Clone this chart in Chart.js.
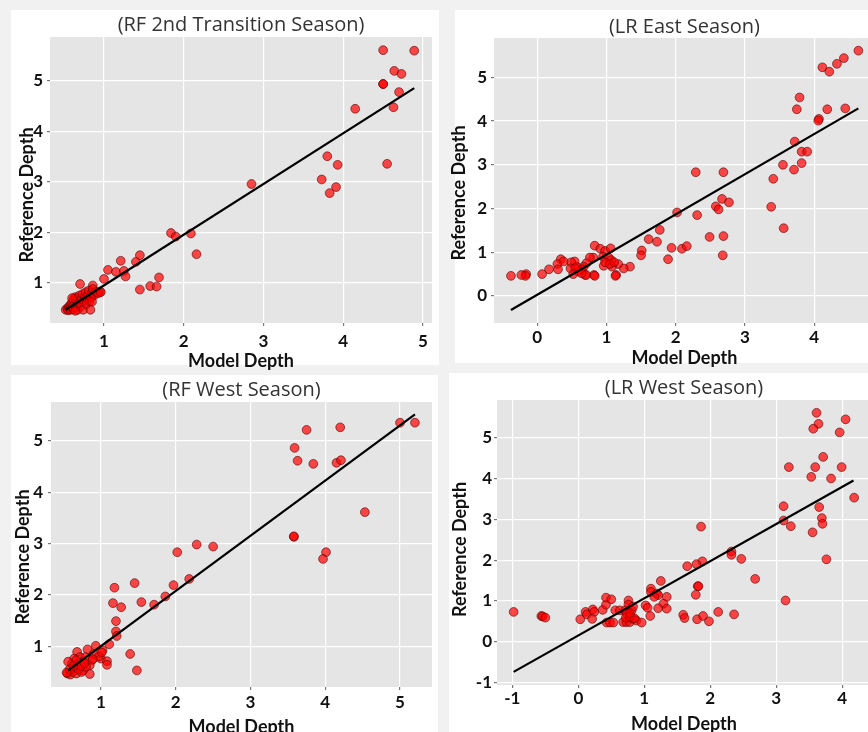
<!DOCTYPE html>
<html>
<head>
<meta charset="utf-8">
<script src="https://cdn.jsdelivr.net/npm/chart.js@4.4.1/dist/chart.umd.min.js"></script>
<style>
  html, body { margin: 0; padding: 0; }
  body { width: 868px; height: 732px; overflow: hidden; position: relative; background: #f1f1f1; }
  .panel { position: absolute; background: #ffffff; }
  canvas { position: absolute; }
</style>
</head>
<body>
<div class="panel" style="left:11px;top:10px;width:428px;height:355px"></div>
<div class="panel" style="left:455px;top:10px;width:413px;height:353px"></div>
<div class="panel" style="left:11px;top:375px;width:427px;height:357px"></div>
<div class="panel" style="left:449px;top:373px;width:419px;height:359px"></div>
<canvas id="c1"></canvas>
<canvas id="c2"></canvas>
<canvas id="c3"></canvas>
<canvas id="c4"></canvas>
<script>
// ---- data: [model depth, reference depth] ----
const rfTransPoints = [
  [4.50,5.61],[4.89,5.60],[4.64,5.20],[4.73,5.14],[4.50,4.94],[4.50,4.94],[4.70,4.78],[4.63,4.48],
  [4.15,4.45],[4.55,3.36],[3.80,3.51],[3.93,3.34],[3.73,3.05],[3.91,2.90],[3.83,2.78],[2.85,2.96],
  [1.84,1.99],[1.90,1.92],[2.09,1.98],[2.16,1.57],[1.21,1.44],[1.40,1.42],[1.45,1.55],[1.05,1.26],
  [1.15,1.22],[1.25,1.24],[1.27,1.13],[1.00,1.08],[1.69,1.11],[1.58,0.94],[1.66,0.93],[1.45,0.87],
  [0.70,0.98],[0.86,0.95],[0.95,0.83],
  [0.52,0.47],[0.54,0.50],[0.55,0.46],[0.56,0.53],[0.57,0.49],[0.58,0.47],[0.58,0.57],[0.59,0.52],
  [0.60,0.62],[0.61,0.55],[0.62,0.48],[0.62,0.68],[0.63,0.58],[0.64,0.72],[0.65,0.52],[0.66,0.64],
  [0.67,0.47],[0.67,0.70],[0.68,0.58],[0.69,0.75],[0.70,0.62],[0.71,0.53],[0.72,0.68],[0.73,0.78],
  [0.74,0.47],[0.75,0.64],[0.76,0.72],[0.77,0.82],[0.78,0.58],[0.79,0.70],[0.80,0.76],[0.81,0.85],
  [0.82,0.63],[0.83,0.47],[0.84,0.72],[0.85,0.80],[0.86,0.88],[0.88,0.76],[0.90,0.82],[0.93,0.80],
  [0.96,0.82],[0.60,0.70],[0.64,0.45],[0.85,0.63]
];
const lrEastPoints = [
  [4.64,5.61],[4.43,5.44],[4.33,5.31],[4.12,5.23],[4.22,5.13],[3.79,4.54],[3.75,4.27],[4.19,4.27],
  [4.45,4.29],[4.07,4.05],[4.06,4.01],[3.72,3.53],[3.82,3.30],[3.90,3.30],[3.82,3.04],[3.55,3.00],
  [3.71,2.89],[3.41,2.68],[3.38,2.04],[3.56,1.55],[2.29,2.83],[2.69,2.83],[2.67,2.22],[2.58,2.05],
  [2.62,1.98],[2.77,2.14],[2.31,1.85],[2.69,1.37],[2.49,1.35],[2.68,0.93],[2.02,1.91],[1.77,1.51],
  [1.61,1.30],[1.73,1.24],[1.94,1.10],[1.89,0.84],[2.09,1.08],[2.16,1.14],[1.51,1.04],[1.50,0.93],
  [1.34,0.67],[1.25,0.63],[1.17,0.73],[1.14,0.48],[1.13,0.46],
  [0.83,1.15],[0.91,1.08],[0.98,1.03],[1.06,1.09],[0.95,0.90],[1.03,0.88],[1.07,0.82],[0.96,0.69],
  [1.08,0.67],[0.98,0.77],[1.05,0.73],[1.11,0.77],[0.81,0.88],[0.76,0.88],[0.71,0.75],[0.67,0.67],
  [0.64,0.61],[0.59,0.56],[0.57,0.67],[0.54,0.79],[0.49,0.77],[0.48,0.63],[0.55,0.64],[0.52,0.50],
  [0.69,0.48],[0.71,0.48],[0.82,0.48],[0.83,0.46],[0.64,0.52],[0.34,0.84],[0.38,0.79],[0.29,0.73],
  [0.30,0.61],[0.17,0.61],[0.07,0.50],[-0.16,0.50],[-0.17,0.46],[-0.23,0.48],[-0.38,0.46]
];
const rfWestPoints = [
  [5.20,5.35],[5.00,5.35],[3.75,5.21],[4.20,5.26],[3.59,4.86],[3.63,4.61],[3.84,4.55],[4.15,4.57],
  [4.21,4.62],[4.53,3.61],[3.58,3.13],[3.58,3.14],[4.01,2.83],[3.97,2.70],[2.28,2.98],[2.50,2.94],
  [2.02,2.83],[2.18,2.31],[1.97,2.19],[1.86,1.97],[1.71,1.81],[1.45,2.23],[1.54,1.86],[1.18,2.14],
  [1.16,1.84],[1.27,1.76],[1.20,1.49],[1.20,1.29],[1.21,1.20],[1.11,1.04],[1.39,0.85],[1.48,0.53],
  [0.93,1.01],[0.82,0.94],[1.02,0.92],[1.00,0.76],[1.08,0.71],[1.08,0.64],[0.88,0.73],[0.85,0.63],
  [0.85,0.46],[0.76,0.53],[0.68,0.89],[0.72,0.79],[0.64,0.76],[0.61,0.66],[0.56,0.70],[0.55,0.47],
  [0.59,0.45],[0.67,0.47],[0.74,0.50],[0.80,0.60],[0.70,0.66],[0.65,0.57],[0.76,0.70],[0.67,0.73],
  [0.79,0.79],[0.58,0.55],[0.62,0.50],[0.70,0.55],[0.73,0.62],[0.63,0.62],[0.78,0.67],[0.90,0.85],
  [0.97,0.80],[1.01,0.88],[0.54,0.49],[0.89,0.75]
];
const lrWestPoints = [
  [3.61,5.61],[3.64,5.34],[3.56,5.22],[4.05,5.45],[3.96,5.13],[3.71,4.53],[3.19,4.28],[3.59,4.28],
  [3.99,4.28],[3.53,4.04],[3.83,4.00],[4.18,3.53],[3.11,3.32],[3.65,3.30],[3.11,2.97],[3.22,2.83],
  [3.69,3.03],[3.70,2.89],[3.55,2.68],[3.76,2.02],[3.14,1.01],[1.86,2.82],[2.32,2.21],[2.32,2.13],
  [2.47,2.03],[2.68,1.54],[1.88,1.97],[1.79,1.90],[1.65,1.85],[1.81,1.36],[1.82,1.36],[1.78,1.15],
  [1.25,1.49],[1.10,1.30],[1.10,1.22],[1.19,1.18],[1.21,1.14],[1.15,1.10],[1.34,1.10],[1.29,0.93],
  [1.21,0.82],[1.34,0.81],[1.02,0.89],[1.05,0.83],[1.09,0.63],[1.59,0.66],[1.61,0.58],[1.80,0.55],
  [1.89,0.63],[1.98,0.50],[2.12,0.73],[2.36,0.67],[-0.98,0.73],[-0.56,0.63],[-0.54,0.62],[-0.50,0.59],
  [0.03,0.55],[0.11,0.73],[0.13,0.67],[0.22,0.79],[0.24,0.73],[0.21,0.56],[0.37,0.78],[0.42,0.91],
  [0.42,1.08],[0.50,1.04],[0.43,0.47],[0.48,0.47],[0.53,0.47],[0.56,0.77],[0.63,0.77],[0.68,0.48],
  [0.73,0.48],[0.78,0.48],[0.76,1.01],[0.76,0.91],[0.71,0.77],[0.81,0.77],[0.73,0.69],[0.78,0.64],
  [0.83,0.56],[0.88,0.52],[0.96,0.47],[0.72,0.59],[0.83,0.86],[0.78,0.61],[0.85,0.57],[0.78,0.70]
];

// fitted lines, end points [model, reference]
const rfTransFit = [[0.52,0.47],[4.89,4.86]];
const lrEastFit  = [[-0.38,-0.32],[4.64,4.29]];
const rfWestFit  = [[0.56,0.53],[5.20,5.51]];
const lrWestFit  = [[-0.98,-0.74],[4.17,3.95]];

// axis ranges and tick values
const rfTransXRange = [0.323, 5.113], rfTransYRange = [0.208, 5.871];
const lrEastXRange  = [-0.625, 4.877], lrEastYRange  = [-0.618, 5.900];
const rfWestXRange  = [0.331, 5.428], rfWestYRange  = [0.208, 5.753];
const lrWestXRange  = [-1.232, 4.435], lrWestYRange  = [-1.061, 5.924];

const rfTransXTicks = [1, 2, 3, 4, 5], rfTransYTicks = [1, 2, 3, 4, 5];
const lrEastXTicks  = [0, 1, 2, 3, 4], lrEastYTicks  = [0, 1, 2, 3, 4, 5];
const rfWestXTicks  = [1, 2, 3, 4, 5], rfWestYTicks  = [1, 2, 3, 4, 5];
const lrWestXTicks  = [-1, 0, 1, 2, 3, 4], lrWestYTicks = [-1, 0, 1, 2, 3, 4, 5];

const panelTitles = ['(RF 2nd Transition Season)', '(LR East Season)', '(RF West Season)', '(LR West Season)'];
const xAxisTitle = 'Model Depth';
const yAxisTitle = 'Reference Depth';

// ---- drawing ----
const toXY = pts => pts.map(p => ({ x: p[0], y: p[1] }));

const plotBg = {
  id: 'plotBg',
  beforeDraw(chart) {
    const { ctx, chartArea: a } = chart;
    ctx.save();
    ctx.fillStyle = '#e5e5e5';
    ctx.fillRect(a.left, a.top, a.right - a.left, a.bottom - a.top);
    ctx.restore();
  }
};

const sideTitle = {
  id: 'sideTitle',
  afterDraw(chart, args, opts) {
    const ctx = chart.ctx;
    ctx.save();
    ctx.translate(opts.x, opts.y);
    ctx.rotate(-Math.PI / 2);
    ctx.font = 'bold 18px Lato';
    ctx.fillStyle = '#111111';
    ctx.textAlign = 'center';
    ctx.textBaseline = 'middle';
    ctx.fillText(opts.text, 0, 0);
    ctx.restore();
  }
};

const tickFont = { family: 'Lato', weight: 'bold', size: 17 };
const axisTitleFont = { family: 'Lato', weight: 'bold', size: 18 };

function makePanel(id, lay, title, points, fit, xr, yr, xt, yt) {
  const cv = document.getElementById(id);
  cv.width = lay.w; cv.height = lay.h;
  cv.style.left = lay.left + 'px'; cv.style.top = lay.top + 'px';
  cv.style.width = lay.w + 'px'; cv.style.height = lay.h + 'px';
  new Chart(cv, {
    type: 'scatter',
    data: {
      datasets: [
        {
          type: 'line', data: toXY(fit), order: 0,
          borderColor: '#000000', borderWidth: 2.2, pointRadius: 0, fill: false
        },
        {
          type: 'scatter', data: toXY(points), order: 1,
          backgroundColor: 'rgba(255,0,0,0.70)', borderColor: 'rgba(90,0,0,0.75)',
          borderWidth: 0.8, pointRadius: 4.4, pointHoverRadius: 4.4
        }
      ]
    },
    options: {
      responsive: false, animation: false, devicePixelRatio: 1,
      layout: { padding: { left: 0, right: lay.padR, top: 0, bottom: 0 } },
      plugins: {
        legend: { display: false },
        tooltip: { enabled: false },
        title: {
          display: true, text: title, fullSize: false, color: '#333333',
          font: { family: 'Open Sans', size: 20, weight: 'normal', lineHeight: 1 },
          padding: { top: lay.tPad[0], bottom: lay.tPad[1] }
        },
        sideTitle: { text: yAxisTitle, x: lay.yTitle[0], y: lay.yTitle[1] }
      },
      scales: {
        x: {
          type: 'linear', position: 'bottom', min: xr[0], max: xr[1],
          afterBuildTicks: s => { s.ticks = xt.map(v => ({ value: v })); },
          afterFit: s => { s.height = lay.xH; },
          grid: { color: '#ffffff', lineWidth: 1.2, tickLength: 3, tickColor: '#777777' },
          border: { display: false },
          ticks: { color: '#111111', font: tickFont, padding: lay.xTickPad, maxRotation: 0, autoSkip: false,
                   callback: v => String(v) },
          title: { display: true, text: xAxisTitle, color: '#111111', font: axisTitleFont,
                   padding: { top: 0, bottom: lay.xTitlePB } }
        },
        y: {
          type: 'linear', position: 'left', min: yr[0], max: yr[1],
          afterBuildTicks: s => { s.ticks = yt.map(v => ({ value: v })); },
          afterFit: s => { s.width = lay.yW; },
          grid: { color: '#ffffff', lineWidth: 1.2, tickLength: 3, tickColor: '#777777' },
          border: { display: false },
          ticks: { color: '#111111', font: tickFont, padding: lay.yTickPad, autoSkip: false,
                   callback: v => String(v) }
        }
      }
    },
    plugins: [plotBg, sideTitle]
  });
}

makePanel('c1', { left: 0, top: 10, w: 440, h: 365, yW: 50, padR: 8, tPad: [5, 2], xH: 52,
                  xTickPad: 5.8, xTitlePB: 3.2, yTickPad: 4, yTitle: [27, 185] },
          panelTitles[0], rfTransPoints, rfTransFit, rfTransXRange, rfTransYRange, rfTransXTicks, rfTransYTicks);
makePanel('c2', { left: 440, top: 10, w: 440, h: 365, yW: 54, padR: 5, tPad: [7, 1], xH: 52,
                  xTickPad: 1.8, xTitlePB: 6.2, yTickPad: 4, yTitle: [19.5, 183] },
          panelTitles[1], lrEastPoints, lrEastFit, lrEastXRange, lrEastYRange, lrEastXTicks, lrEastYTicks);
makePanel('c3', { left: 0, top: 375, w: 440, h: 365, yW: 51, padR: 8, tPad: [5, 2], xH: 53,
                  xTickPad: 2.5, xTitlePB: 2.2, yTickPad: 5, yTitle: [23, 182] },
          panelTitles[2], rfWestPoints, rfWestFit, rfWestXRange, rfWestYRange, rfWestXTicks, rfWestYTicks);
makePanel('c4', { left: 440, top: 373, w: 440, h: 367, yW: 57, padR: 9, tPad: [5.7, 1.3], xH: 55,
                  xTickPad: 0.5, xTitlePB: 5.2, yTickPad: 2, yTitle: [19.7, 176.5] },
          panelTitles[3], lrWestPoints, lrWestFit, lrWestXRange, lrWestYRange, lrWestXTicks, lrWestYTicks);
</script>
</body>
</html>
